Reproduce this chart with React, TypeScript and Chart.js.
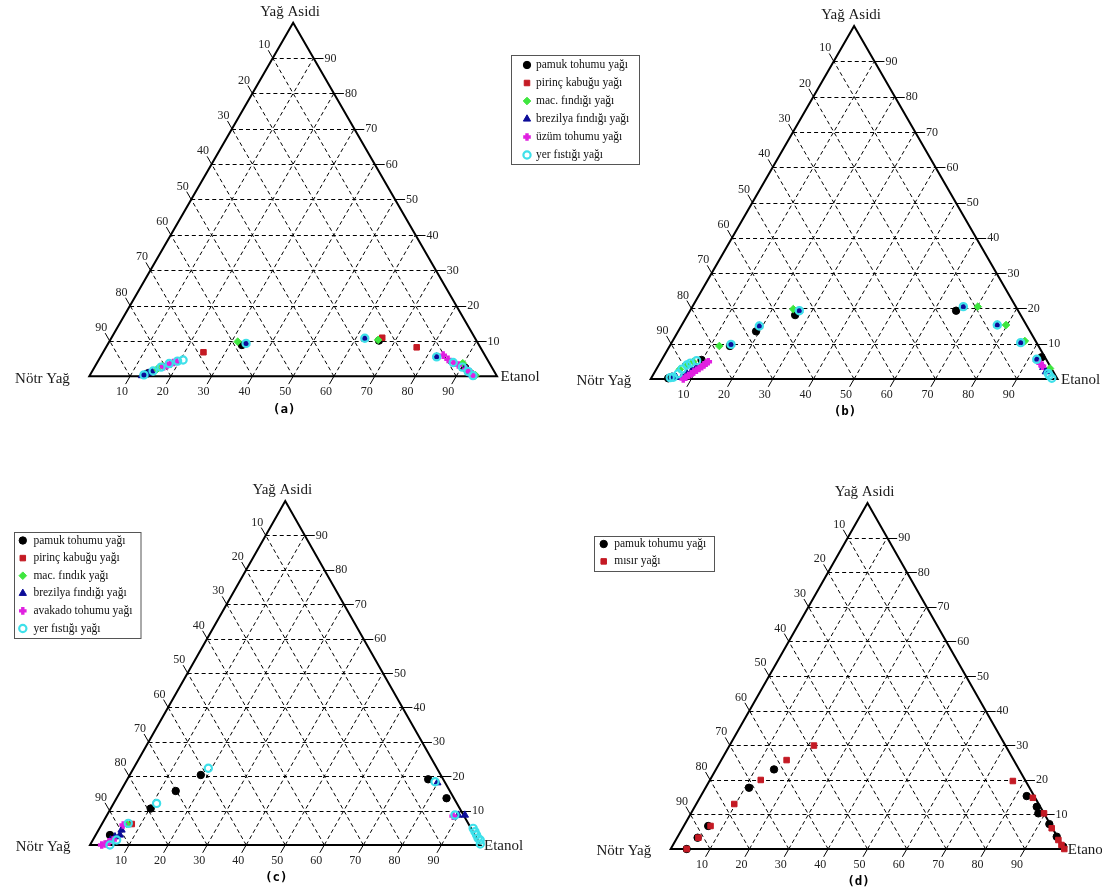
import React, { useEffect, useRef } from "react";
import { Chart, registerables } from "chart.js";
import { drawPoint } from "chart.js/helpers";

Chart.register(...registerables);

const PAGE_W = 1102;
const PAGE_H = 896;

// ---------- texts ----------
const AXIS_TOP = "Yağ Asidi";
const AXIS_LEFT = "Nötr Yağ";
const AXIS_RIGHT = "Etanol";
const TICK_VALUES = [10, 20, 30, 40, 50, 60, 70, 80, 90];
const PANEL_TAGS = ["(a)", "(b)", "(c)", "(d)"];

const LEGEND_AB = [
  "pamuk tohumu yağı",
  "pirinç kabuğu yağı",
  "mac. fındığı yağı",
  "brezilya fındığı yağı",
  "üzüm tohumu yağı",
  "yer fıstığı yağı",
];
const LEGEND_C = [
  "pamuk tohumu yağı",
  "pirinç kabuğu yağı",
  "mac. fındık yağı",
  "brezilya fındığı yağı",
  "avakado tohumu yağı",
  "yer fıstığı yağı",
];
const LEGEND_D = ["pamuk tohumu yağı", "mısır yağı"];

// ---------- data: [Etanol %, Yağ Asidi %] ----------
// panel (a)
const A_PAMUK = [[14.0, 0.9], [33.0, 8.85], [66.0, 10.1], [91.0, 2.4]];
const A_PIRINC = [[24.6, 6.8], [76.2, 8.2], [66.4, 10.9]];
const A_MAC = [[15.6, 2.0], [16.5, 2.9], [31.5, 9.8], [65.7, 10.3], [89.75, 3.7], [93.5, 0.8], [94.6, 0.3]];
const A_BREZILYA = [[12.8, 0.2], [13.4, 0.5], [14.0, 0.9], [14.7, 1.3], [33.8, 9.3], [62.2, 10.75], [82.45, 5.5], [91.0, 2.3], [92.3, 1.3], [93.3, 0.6]];
const A_UZUM = [[16.9, 2.7], [17.5, 3.1], [18.1, 3.5], [18.7, 3.9], [19.3, 4.2], [83.8, 6.0], [85.6, 4.8], [87.5, 3.8], [88.9, 3.2], [91.4, 2.0], [92.8, 1.2], [94.2, 0.1]];
const A_YER = [[13.2, 0.4], [14.9, 1.5], [16.3, 2.6], [17.8, 3.6], [19.5, 4.3], [20.7, 4.6], [33.8, 9.3], [62.2, 10.75], [82.45, 5.5], [87.3, 3.9], [90.2, 2.6], [92.2, 1.4], [94.0, 0.2]];

// panel (b)
const B_PAMUK = [[4.2, 0.2], [4.8, 0.6], [9.8, 5.4], [14.8, 9.35], [19.15, 13.5], [26.45, 18.1], [65.4, 19.35], [93.0, 6.15]];
const B_MAC = [[5.8, 2.75], [7.0, 3.8], [8.0, 4.9], [12.2, 9.35], [25.15, 19.8], [70.15, 20.5], [79.7, 15.3], [86.6, 10.76], [96.65, 3.0]];
const B_BREZILYA = [[5.0, 0.6], [6.0, 0.5], [7.4, 0.5], [8.05, 1.6], [8.9, 2.5], [9.6, 3.3], [14.84, 9.8], [19.2, 15.0], [26.85, 19.35], [66.6, 20.5], [77.55, 15.3], [85.8, 10.3], [92.1, 5.58], [94.85, 3.3], [96.1, 2.07]];
const B_UZUM = [[8.0, 0.0], [8.4, 0.5], [8.8, 1.0], [9.2, 1.5], [9.6, 2.0], [10.0, 2.5], [10.4, 3.0], [10.8, 3.5], [11.1, 4.0], [11.4, 4.5], [11.7, 4.9], [93.5, 4.45], [94.5, 3.6]];
const B_YER = [[4.6, 0.4], [5.3, 0.5], [6.0, 1.5], [6.3, 2.8], [6.9, 3.97], [7.5, 4.5], [8.7, 5.2], [14.84, 9.8], [19.2, 15.0], [26.85, 19.35], [66.6, 20.5], [77.55, 15.3], [85.8, 10.3], [92.1, 5.58], [96.9, 1.6], [97.5, 1.0], [98.5, 0.2]];

// panel (c)
const C_PAMUK = [[3.67, 2.9], [10.24, 10.6], [14.1, 15.7], [18.2, 20.35], [77.05, 19.1], [84.5, 13.6]];
const C_PIRINC = [[7.65, 6.1]];
const C_MAC = [[6.35, 6.1]];
const C_BREZILYA = [[4.5, 1.5], [5.2, 2.4], [6.2, 2.9], [5.9, 4.36], [79.9, 18.1], [89.95, 8.7], [91.65, 8.7]];
const C_AVAKADO = [[3.0, 0.0], [3.7, 0.3], [4.4, 0.9], [5.2, 1.45], [5.6, 5.8], [88.8, 8.4]];
const C_YER = [[5.1, 0.0], [6.1, 1.45], [6.65, 6.3], [11.0, 12.1], [19.15, 22.3], [79.15, 18.4], [89.1, 8.7], [95.7, 4.84], [96.65, 3.87], [97.55, 2.9], [98.4, 1.95], [99.2, 1.45], [99.8, 0.3]];

// panel (d)
const D_PAMUK = [[4.06, 0.0], [5.2, 3.27], [6.2, 6.65], [11.05, 17.7], [14.75, 23.0], [82.8, 15.3], [86.9, 12.2], [88.25, 10.3], [92.6, 7.2], [96.3, 3.56], [99.4, 0.67]];
const D_MISIR = [[4.06, 0.0], [5.4, 3.27], [6.8, 6.65], [9.65, 13.0], [12.9, 19.95], [16.6, 25.7], [21.45, 29.9], [77.1, 19.65], [84.6, 14.8], [89.7, 10.3], [93.8, 6.0], [97.2, 2.6], [98.7, 1.16], [100, 0.0]];

// ---------- marker styles ----------
const MARKERS: Record<string, any> = {
  black: { pointStyle: "circle", radius: 3.7, bg: "#000000", border: "#000000", bw: 1 },
  red: { pointStyle: "rect", radius: 3.9, bg: "#c41a24", border: "#c41a24", bw: 1 },
  green: { pointStyle: "rectRot", radius: 3.8, bg: "#3ee63e", border: "#3ee63e", bw: 1 },
  blue: { pointStyle: "triangle", radius: 4.2, bg: "#0c0c98", border: "#0c0c98", bw: 1 },
  magenta: { pointStyle: "cross", radius: 3.8, bg: "#e020e0", border: "#e020e0", bw: 3.4 },
  cyan: { pointStyle: "circle", radius: 3.6, bg: "rgba(255,255,255,0)", border: "#3ee0ea", bw: 2.2 },
};

const SERIF = '"Liberation Serif", "Times New Roman", serif';

// ---------- panels (layout) ----------
const PANELS = [
  {
    tag: PANEL_TAGS[0],
    tri: { L: 89.3, R: 497, base: 376.3, apex: 22.7 },
    series: [
      { label: LEGEND_AB[0], marker: "black", data: A_PAMUK },
      { label: LEGEND_AB[1], marker: "red", data: A_PIRINC },
      { label: LEGEND_AB[2], marker: "green", data: A_MAC },
      { label: LEGEND_AB[3], marker: "blue", data: A_BREZILYA },
      { label: LEGEND_AB[4], marker: "magenta", data: A_UZUM },
      { label: LEGEND_AB[5], marker: "cyan", data: A_YER },
    ],
    legend: { x: 510.5, y: 54.5, w: 128, h: 109, rowY: 65, step: 18, markerX: 527, textX: 536 },
  },
  {
    tag: PANEL_TAGS[1],
    tri: { L: 650.7, R: 1057.5, base: 379, apex: 26 },
    series: [
      { label: LEGEND_AB[0], marker: "black", data: B_PAMUK },
      { label: LEGEND_AB[2], marker: "green", data: B_MAC },
      { label: LEGEND_AB[3], marker: "blue", data: B_BREZILYA },
      { label: LEGEND_AB[4], marker: "magenta", data: B_UZUM },
      { label: LEGEND_AB[5], marker: "cyan", data: B_YER },
    ],
    legend: null,
  },
  {
    tag: PANEL_TAGS[2],
    tri: { L: 90, R: 480.5, base: 845, apex: 501 },
    series: [
      { label: LEGEND_C[0], marker: "black", data: C_PAMUK },
      { label: LEGEND_C[1], marker: "red", data: C_PIRINC },
      { label: LEGEND_C[2], marker: "green", data: C_MAC },
      { label: LEGEND_C[3], marker: "blue", data: C_BREZILYA },
      { label: LEGEND_C[4], marker: "magenta", data: C_AVAKADO },
      { label: LEGEND_C[5], marker: "cyan", data: C_YER },
    ],
    legend: { x: 13.5, y: 531.5, w: 126.5, h: 106, rowY: 540.5, step: 17.6, markerX: 22.8, textX: 33.4 },
  },
  {
    tag: PANEL_TAGS[3],
    tri: { L: 670.7, R: 1064.3, base: 849, apex: 503 },
    series: [
      { label: LEGEND_D[0], marker: "black", data: D_PAMUK },
      { label: LEGEND_D[1], marker: "red", data: D_MISIR },
    ],
    legend: { x: 594, y: 535.5, w: 120, h: 35, rowY: 544, step: 17.4, markerX: 603.7, textX: 614.2 },
  },
];

function applyMarker(ctx: CanvasRenderingContext2D, m: any) {
  ctx.fillStyle = m.bg;
  ctx.strokeStyle = m.border;
  ctx.lineWidth = m.bw;
}

function makePlugin(panel: any) {
  return {
    id: "ternaryFrame",
    beforeDatasetsDraw(chart: any) {
      const ctx: CanvasRenderingContext2D = chart.ctx;
      const xs = chart.scales.x;
      const ys = chart.scales.y;
      const P = (e: number, a: number) => ({
        x: xs.getPixelForValue(e + a / 2),
        y: ys.getPixelForValue(a),
      });
      ctx.save();
      // dashed grid
      ctx.setLineDash([4, 3]);
      ctx.lineWidth = 1;
      ctx.strokeStyle = "#000";
      for (const k of TICK_VALUES) {
        const h1 = P(0, k);
        const h2 = P(100 - k, k);
        const hy = Math.round(h1.y) + 0.5;
        ctx.beginPath();
        ctx.moveTo(h1.x, hy);
        ctx.lineTo(h2.x, hy);
        ctx.stroke();
        const e1 = P(k, 0);
        const e2 = P(k, 100 - k);
        ctx.beginPath();
        ctx.moveTo(e1.x, e1.y);
        ctx.lineTo(e2.x, e2.y);
        ctx.stroke();
        const n1 = P(100 - k, 0);
        const n2 = P(0, 100 - k);
        ctx.beginPath();
        ctx.moveTo(n1.x, n1.y);
        ctx.lineTo(n2.x, n2.y);
        ctx.stroke();
      }
      ctx.setLineDash([]);
      // frame
      const vL = P(0, 0);
      const vR = P(100, 0);
      const vT = P(0, 100);
      ctx.lineWidth = 2;
      ctx.beginPath();
      ctx.moveTo(vL.x, vL.y);
      ctx.lineTo(vR.x, vR.y);
      ctx.lineTo(vT.x, vT.y);
      ctx.closePath();
      ctx.stroke();
      // ticks & tick labels
      ctx.lineWidth = 1;
      ctx.fillStyle = "#222";
      ctx.font = `12px ${SERIF}`;
      for (const k of TICK_VALUES) {
        const label = String(k);
        // bottom: Etanol
        const b = P(k, 0);
        ctx.beginPath();
        ctx.moveTo(b.x, b.y);
        ctx.lineTo(b.x - 4.5, b.y + 7.8);
        ctx.stroke();
        ctx.textAlign = "center";
        ctx.textBaseline = "middle";
        ctx.fillText(label, b.x - 8, b.y + 15.5);
        // right: Yağ Asidi
        const r = P(100 - k, k);
        const ry = Math.round(r.y) + 0.5;
        ctx.beginPath();
        ctx.moveTo(r.x, ry);
        ctx.lineTo(r.x + 10, ry);
        ctx.stroke();
        ctx.textAlign = "left";
        ctx.fillText(label, r.x + 11, r.y + 0.5);
        // left: Nötr Yağ
        const l = P(0, 100 - k);
        ctx.beginPath();
        ctx.moveTo(l.x, l.y);
        ctx.lineTo(l.x - 4.5, l.y - 7.8);
        ctx.stroke();
        ctx.textAlign = "center";
        ctx.fillText(label, l.x - 8.5, l.y - 13);
      }
      // vertex labels
      ctx.font = `15px ${SERIF}`;
      ctx.fillStyle = "#1a1a1a";
      ctx.textBaseline = "middle";
      ctx.textAlign = "center";
      ctx.fillText(AXIS_TOP, vT.x - 3, vT.y - 10.5);
      ctx.textAlign = "right";
      ctx.fillText(AXIS_LEFT, vL.x - 19.5, vL.y + 2.5);
      ctx.textAlign = "left";
      ctx.fillText(AXIS_RIGHT, vR.x + 3.5, vR.y + 1);
      // panel tag
      ctx.font = `bold 12.5px "DejaVu Sans Mono", monospace`;
      ctx.fillStyle = "#000";
      ctx.textAlign = "center";
      ctx.fillText(panel.tag, vT.x - 9, vL.y + 33);
      ctx.restore();
    },
    afterDraw(chart: any) {
      const lg = panel.legend;
      if (!lg) return;
      const ctx: CanvasRenderingContext2D = chart.ctx;
      ctx.save();
      ctx.lineWidth = 1;
      ctx.strokeStyle = "#555";
      ctx.strokeRect(Math.round(lg.x) + 0.5, Math.round(lg.y) + 0.5, lg.w, lg.h);
      ctx.font = `11.5px ${SERIF}`;
      ctx.textAlign = "left";
      ctx.textBaseline = "middle";
      panel.series.forEach((s: any, i: number) => {
        const y = lg.rowY + i * lg.step;
        const m = MARKERS[s.marker];
        applyMarker(ctx, m);
        drawPoint(ctx, { pointStyle: m.pointStyle, radius: m.radius, borderWidth: m.bw, rotation: 0 } as any, lg.markerX, y);
        ctx.fillStyle = "#111";
        ctx.fillText(s.label, lg.textX, y);
      });
      ctx.restore();
    },
  };
}

function buildConfig(panel: any): any {
  const n = panel.series.length;
  return {
    type: "scatter",
    data: {
      datasets: panel.series.map((s: any, i: number) => {
        const m = MARKERS[s.marker];
        return {
          label: s.label,
          data: s.data.map((p: number[]) => ({ x: p[0] + p[1] / 2, y: p[1] })),
          pointStyle: m.pointStyle,
          pointRadius: m.radius,
          pointHoverRadius: m.radius,
          pointBackgroundColor: m.bg,
          pointBorderColor: m.border,
          pointBorderWidth: m.bw,
          showLine: false,
          clip: false,
          order: n - 1 - i,
        };
      }),
    },
    options: {
      animation: false,
      responsive: false,
      events: [],
      layout: {
        padding: {
          left: panel.tri.L,
          right: PAGE_W - panel.tri.R,
          top: panel.tri.apex,
          bottom: PAGE_H - panel.tri.base,
        },
      },
      plugins: { legend: { display: false }, tooltip: { enabled: false } },
      scales: {
        x: { type: "linear", min: 0, max: 100, display: false },
        y: { type: "linear", min: 0, max: 100, display: false },
      },
    },
    plugins: [makePlugin(panel)],
  };
}

export default function App() {
  const refs = useRef<(HTMLCanvasElement | null)[]>([]);
  useEffect(() => {
    const charts = PANELS.map((panel, i) => {
      const cv = refs.current[i] as HTMLCanvasElement;
      return new Chart(cv, buildConfig(panel));
    });
    return () => charts.forEach((c) => c.destroy());
  }, []);
  return (
    <div style={{ position: "absolute", left: 0, top: 0, width: PAGE_W, height: PAGE_H, background: "#fff", overflow: "hidden" }}>
      {PANELS.map((p, i) => (
        <canvas
          key={p.tag}
          ref={(el) => {
            refs.current[i] = el;
          }}
          width={PAGE_W}
          height={PAGE_H}
          style={{ position: "absolute", left: 0, top: 0, width: PAGE_W, height: PAGE_H }}
        />
      ))}
    </div>
  );
}
